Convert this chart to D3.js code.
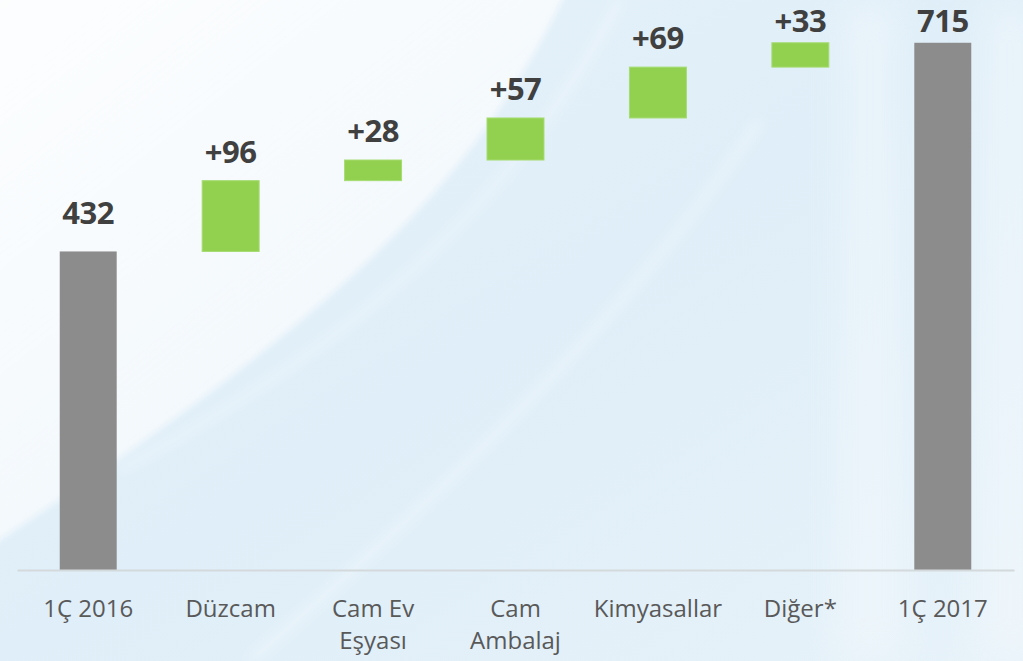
<!DOCTYPE html>
<html lang="tr">
<head>
<meta charset="utf-8">
<script src="https://cdn.jsdelivr.net/npm/d3@7"></script>
<style>
  html, body { margin: 0; padding: 0; background: #e0eef8; }
  svg { display: block; }
</style>
</head>
<body>
<svg id="chart" width="1023" height="661"></svg>
<script>
// Waterfall: 1Ç 2016 → 1Ç 2017, contributions by segment
const categories = ["1Ç 2016", "Düzcam", "Cam Ev\nEşyası", "Cam\nAmbalaj", "Kimyasallar", "Diğer*", "1Ç 2017"];
const kinds      = ["total", "delta", "delta", "delta", "delta", "delta", "total"];
const values     = [432, 96, 28, 57, 69, 33, 715];
const valueLabels = ["432", "+96", "+28", "+57", "+69", "+33", "715"];

const W = 1023, H = 661;
const svg = d3.select("#chart");

// ---- soft background ----
const defs = svg.append("defs");
const bgGrad = defs.append("linearGradient").attr("id", "bg")
  .attr("x1", "0").attr("y1", "0").attr("x2", "1").attr("y2", "1");
bgGrad.append("stop").attr("offset", "0%").attr("stop-color", "#e8f3fa");
bgGrad.append("stop").attr("offset", "50%").attr("stop-color", "#dfeef8");
bgGrad.append("stop").attr("offset", "100%").attr("stop-color", "#e7f2f9");

const lightGrad = defs.append("linearGradient").attr("id", "light")
  .attr("x1", "0").attr("y1", "0").attr("x2", "0.8").attr("y2", "1");
lightGrad.append("stop").attr("offset", "0%").attr("stop-color", "#ffffff").attr("stop-opacity", 0.9);
lightGrad.append("stop").attr("offset", "65%").attr("stop-color", "#ffffff").attr("stop-opacity", 0.6);
lightGrad.append("stop").attr("offset", "100%").attr("stop-color", "#ffffff").attr("stop-opacity", 0.3);

const edge = defs.append("filter").attr("id", "edge").attr("x", "-10%").attr("y", "-10%").attr("width", "120%").attr("height", "120%");
edge.append("feGaussianBlur").attr("stdDeviation", 3);
const blur = defs.append("filter").attr("id", "soft").attr("x", "-20%").attr("y", "-20%").attr("width", "140%").attr("height", "140%");
blur.append("feGaussianBlur").attr("stdDeviation", 6);
const blurWide = defs.append("filter").attr("id", "softer").attr("x", "-50%").attr("y", "-20%").attr("width", "200%").attr("height", "140%");
blurWide.append("feGaussianBlur").attr("stdDeviation", 18);

const bg = svg.append("g").attr("class", "background");
bg.append("rect").attr("width", W).attr("height", H).attr("fill", "url(#bg)");
// bright sweep in the upper left
bg.append("path")
  .attr("d", "M-20,-20 L568,-20 L562,0 C470,190 330,320 0,540 L-20,560 Z")
  .attr("fill", "url(#light)")
  .attr("filter", "url(#edge)");
// faint streaks following the sweep
bg.append("path")
  .attr("d", "M620,0 C520,190 380,330 120,470")
  .attr("fill", "none").attr("stroke", "#ffffff").attr("stroke-opacity", 0.4)
  .attr("stroke-width", 6).attr("filter", "url(#soft)");
bg.append("path")
  .attr("d", "M760,120 C640,300 470,470 250,661")
  .attr("fill", "none").attr("stroke", "#ffffff").attr("stroke-opacity", 0.3)
  .attr("stroke-width", 10).attr("filter", "url(#soft)");
// pale vertical bands on the right
bg.append("rect").attr("x", 840).attr("y", 0).attr("width", 60).attr("height", H)
  .attr("fill", "#ffffff").attr("opacity", 0.3).attr("filter", "url(#softer)");
bg.append("rect").attr("x", 980).attr("y", 0).attr("width", 60).attr("height", H)
  .attr("fill", "#ffffff").attr("opacity", 0.3).attr("filter", "url(#softer)");

// ---- scales ----
const x = d3.scaleBand()
  .domain(categories)
  .range([17, 1014])
  .paddingInner(0.6)
  .paddingOuter(0.3);

const y = d3.scaleLinear()
  .domain([0, 773])
  .range([570, 0]);

// running base for the floating steps
let running = 0;
const bars = categories.map((c, i) => {
  let lo, hi;
  if (kinds[i] === "total") {
    lo = 0; hi = values[i]; running = values[i];
  } else {
    lo = running; hi = running + values[i]; running = hi;
  }
  return { cat: c, kind: kinds[i], lo, hi, label: valueLabels[i] };
});

// ---- bars ----
svg.append("g").selectAll("rect.bar")
  .data(bars)
  .join("rect")
  .attr("class", "bar")
  .attr("x", d => x(d.cat))
  .attr("width", x.bandwidth())
  .attr("y", d => y(d.hi))
  .attr("height", d => y(d.lo) - y(d.hi))
  .attr("fill", d => d.kind === "total" ? "#8c8c8c" : "#92d050")
  .attr("stroke", d => d.kind === "total" ? "none" : "#a6dc72")
  .attr("stroke-width", 1);

// ---- value labels ----
svg.append("g").selectAll("text.val")
  .data(bars)
  .join("text")
  .attr("class", "val")
  .attr("x", d => x(d.cat) + x.bandwidth() / 2)
  .attr("y", d => Math.max(y(d.hi) - (d.kind === "total" ? 27 : 18), 32))
  .attr("text-anchor", "middle")
  .attr("font-family", "'Open Sans', sans-serif")
  .attr("font-weight", 700)
  .attr("font-size", 31)
  .attr("letter-spacing", -0.5)
  .attr("fill", "#404040")
  .text(d => d.label);

// ---- category axis ----
const axis = svg.append("g")
  .attr("transform", `translate(0,${y(0)})`)
  .call(d3.axisBottom(x).tickSize(0).tickFormat(""));
axis.select(".domain")
  .attr("stroke", "#d4d9dc")
  .attr("stroke-width", 2);

axis.selectAll(".tick text").remove();
axis.selectAll(".tick").each(function(d) {
  const t = d3.select(this).append("text")
    .attr("text-anchor", "middle")
    .attr("font-family", "'Open Sans', sans-serif")
    .attr("font-size", 24)
    .attr("fill", "#595959")
    .attr("y", 47);
  d.split("\n").forEach((line, k) => {
    t.append("tspan").attr("x", 0).attr("dy", k === 0 ? 0 : 32).text(line);
  });
});
</script>
</body>
</html>
